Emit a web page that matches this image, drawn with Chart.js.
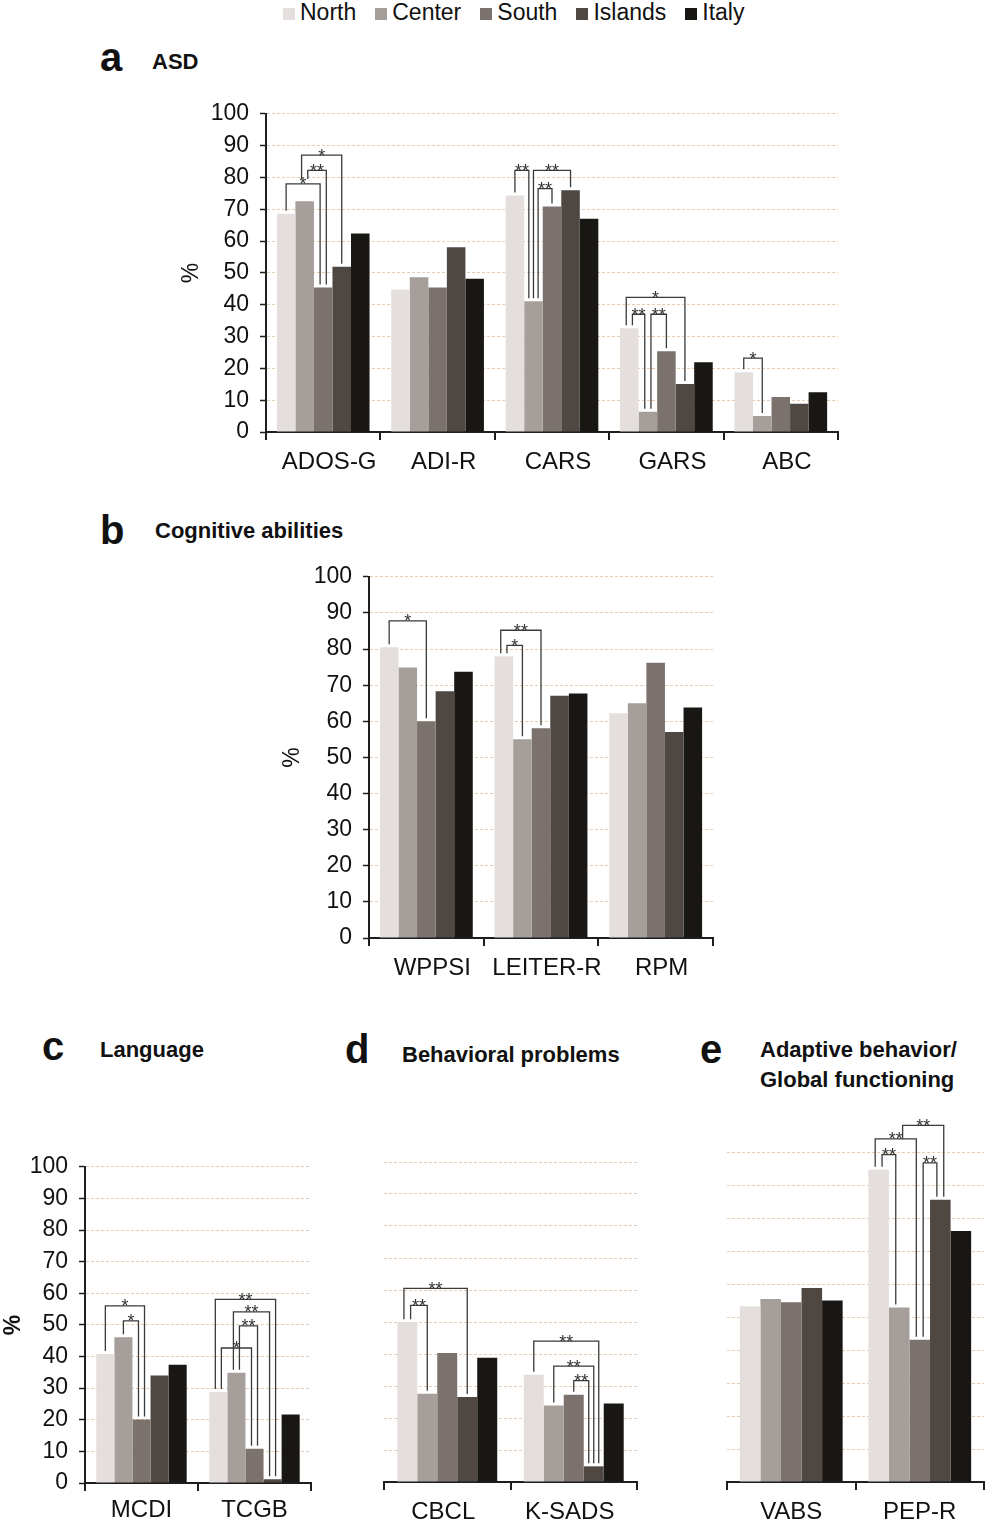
<!DOCTYPE html>
<html>
<head>
<meta charset="utf-8">
<script src="https://cdn.jsdelivr.net/npm/chart.js@4.4.1/dist/chart.umd.min.js"></script>
<style>
  body { margin:0; background:#fff; width:986px; height:1524px; position:relative; overflow:hidden;
         font-family:"Liberation Sans", Arial, sans-serif; color:#111; }
  canvas { position:absolute; }
  .t { position:absolute; font-weight:bold; line-height:1; white-space:nowrap; }
  .letter { font-size:40px; }
  .head { font-size:22px; }
  #legend { position:absolute; left:283px; top:1px; font-size:23px; line-height:1; display:flex; align-items:center; }
  #legend .item { display:flex; align-items:center; margin-right:19px; }
  #legend .sw { width:12px; height:12px; margin-right:5px; margin-top:3px; }
</style>
</head>
<body>
<div id="legend"></div>

<div class="t letter" style="left:100px;top:37px">a</div>
<div class="t head" style="left:152px;top:51px">ASD</div>
<div class="t letter" style="left:100px;top:510px">b</div>
<div class="t head" style="left:155px;top:520px">Cognitive abilities</div>
<div class="t letter" style="left:42px;top:1026px">c</div>
<div class="t head" style="left:100px;top:1039px">Language</div>
<div class="t letter" style="left:345px;top:1029px">d</div>
<div class="t head" style="left:402px;top:1044px">Behavioral problems</div>
<div class="t letter" style="left:700px;top:1029px">e</div>
<div class="t head" style="left:760px;top:1039px">Adaptive behavior/</div>
<div class="t head" style="left:760px;top:1069px">Global functioning</div>

<canvas id="chartA" width="680" height="391" style="left:170px;top:89px"></canvas>
<canvas id="chartB" width="455" height="428" style="left:270px;top:552px"></canvas>
<canvas id="chartC" width="323" height="382" style="left:0px;top:1142px"></canvas>
<canvas id="chartD" width="270" height="374" style="left:380px;top:1150px"></canvas>
<canvas id="chartE" width="263" height="424" style="left:723px;top:1100px"></canvas>

<script>
// regions (series)
var regions = ['North', 'Center', 'South', 'Islands', 'Italy'];
var regionColors = ['#e4dfdc', '#a69e9a', '#7b726d', '#4e4742', '#181714'];

// a - ASD
var asdTests = ['ADOS-G', 'ADI-R', 'CARS', 'GARS', 'ABC'];
var asdNorth   = [68.6, 44.7, 74.3, 32.6, 18.8];
var asdCenter  = [72.5, 48.6, 41.1, 6.4, 5.0];
var asdSouth   = [45.4, 45.4, 70.9, 25.4, 11.0];
var asdIslands = [51.9, 58.1, 76.0, 15.1, 8.9];
var asdItaly   = [62.4, 48.2, 67.0, 21.9, 12.5];
// significance: [test, from region, to region, bracket level %, stars, (leg stop %)]
var asdSig = [
  [0, 0, 2, 78, '*'], [0, 1, 2, 82.2, '**', 79.5], [0, 1, 3, 87, '*', 79.5],
  [2, 0, 1, 82.2, '**'], [2, 1, 2, 76.5, '**'], [2, 1, 3, 82.2, '**'],
  [3, 0, 3, 42.3, '*'], [3, 0, 1, 37, '**'], [3, 1, 2, 37, '**'],
  [4, 0, 1, 23.2, '*']
];

// b - Cognitive abilities
var cogTests = ['WPPSI', 'LEITER-R', 'RPM'];
var cogNorth   = [80.5, 78.0, 62.2];
var cogCenter  = [74.9, 55.0, 65.0];
var cogSouth   = [60.0, 58.1, 76.2];
var cogIslands = [68.3, 67.1, 57.0];
var cogItaly   = [73.7, 67.7, 63.8];
var cogSig = [[0, 0, 2, 87.8, '*'], [1, 0, 2, 85.2, '**'], [1, 0, 1, 81, '*']];

// c - Language
var langTests = ['MCDI', 'TCGB'];
var langNorth   = [40.8, 28.8];
var langCenter  = [46.1, 34.9];
var langSouth   = [20.1, 10.8];
var langIslands = [34.0, 1.2];
var langItaly   = [37.4, 21.7];
var langSig = [
  [0, 0, 2, 56, '*'], [0, 1, 2, 51.3, '*'],
  [1, 0, 3, 58.1, '**'], [1, 1, 3, 54.1, '**'], [1, 1, 2, 49.7, '**'], [1, 0, 2, 42.7, '*']
];

// d - Behavioral problems
var behTests = ['CBCL', 'K-SADS'];
var behNorth   = [49.9, 33.5];
var behCenter  = [27.6, 23.9];
var behSouth   = [40.3, 27.3];
var behIslands = [26.6, 4.9];
var behItaly   = [38.8, 24.5];
var behSig = [
  [0, 0, 3, 60.5, '**'], [0, 0, 1, 55.2, '**'],
  [1, 0, 3, 44, '**'], [1, 1, 3, 36.2, '**'], [1, 2, 3, 31.7, '**']
];

// e - Adaptive behavior / Global functioning
var adaTests = ['VABS', 'PEP-R'];
var adaNorth   = [53.4, 94.9];
var adaCenter  = [55.6, 53.0];
var adaSouth   = [54.6, 43.2];
var adaIslands = [59.0, 85.8];
var adaItaly   = [55.2, 76.3];
var adaSig = [
  [1, 0, 2, 104.3, '**'], [1, 0, 1, 99.5, '**'], [1, 1, 3, 108.4, '**', 104.3], [1, 2, 3, 97, '**']
];

var FONT = '"Liberation Sans", Arial, sans-serif';
var INK = '#1e1e1e';

// legend
var legend = document.getElementById('legend');
regions.forEach(function(r, i){
  var it = document.createElement('div');
  it.className = 'item';
  it.innerHTML = '<span class="sw" style="background:' + regionColors[i] + '"></span><span>' + r + '</span>';
  legend.appendChild(it);
});

// brackets drawn from the bars' own positions
var sigPlugin = {
  id: 'sig',
  afterDatasetsDraw: function(chart, args, opts){
    var marks = opts.marks || [];
    var ys = chart.scales.y, c = chart.ctx;
    var legs = {}, legX = {};
    marks.forEach(function(m, k){
      var a = m[0] + '_' + m[1], b = m[0] + '_' + m[2];
      (legs[a] = legs[a] || []).push({k: k, end: false, level: m[3]});
      (legs[b] = legs[b] || []).push({k: k, end: true, level: m[3]});
    });
    Object.keys(legs).forEach(function(key){
      var p = key.split('_');
      var bar = chart.getDatasetMeta(+p[1]).data[+p[0]];
      var list = legs[key];
      list.sort(function(u, v){
        if (u.end !== v.end) return u.end ? -1 : 1;
        return u.end ? u.level - v.level : v.level - u.level;
      });
      list.forEach(function(l, i){
        legX[l.k + (l.end ? 'b' : 'a')] = bar.x - bar.width / 2 + bar.width * (i + 1) / (list.length + 1);
      });
    });
    c.save();
    c.strokeStyle = '#3a3a3a';
    c.lineWidth = 1.3;
    c.fillStyle = '#333';
    c.font = '18px ' + FONT;
    c.textAlign = 'center';
    marks.forEach(function(m, k){
      var xa = legX[k + 'a'], xb = legX[k + 'b'];
      var top = ys.getPixelForValue(m[3]);
      var barA = chart.getDatasetMeta(m[1]).data[m[0]];
      var barB = chart.getDatasetMeta(m[2]).data[m[0]];
      var ya = m[5] != null ? ys.getPixelForValue(m[5]) : barA.y - 3;
      var yb = barB.y - 3;
      c.beginPath();
      c.moveTo(xa, ya); c.lineTo(xa, top); c.lineTo(xb, top); c.lineTo(xb, yb);
      c.stroke();
      c.fillText(m[4], (xa + xb) / 2, top + 6.5);
    });
    c.restore();
  }
};

function makePanel(id, tests, series, sig, cfg){
  return new Chart(document.getElementById(id), {
    type: 'bar',
    data: {
      labels: tests,
      datasets: series.map(function(vals, i){
        return {
          label: regions[i], data: vals, backgroundColor: regionColors[i],
          borderWidth: 0, barPercentage: 1, categoryPercentage: cfg.cat
        };
      })
    },
    options: {
      responsive: false, maintainAspectRatio: false, animation: false,
      layout: { padding: cfg.pad },
      plugins: { legend: { display: false }, tooltip: { enabled: false }, sig: { marks: sig } },
      scales: {
        x: {
          grid: { drawOnChartArea: false, drawTicks: true, tickLength: 8, color: INK, lineWidth: 2 },
          border: { color: INK, width: 2 },
          ticks: { color: '#111', font: { family: FONT, size: 24 }, padding: cfg.xpad, labelOffset: cfg.lo || 0,
                   maxRotation: 0, autoSkip: false },
          afterFit: function(s){ s.height = cfg.xh; }
        },
        y: {
          min: 0, max: cfg.max,
          ticks: { stepSize: 10, display: cfg.axis, color: '#111', font: { family: FONT, size: 23 }, padding: 11 },
          grid: {
            color: function(ctx){ return ctx.tick && ctx.tick.value > 0 && ctx.tick.value <= 100 ? 'rgba(214,172,126,0.6)' : 'rgba(0,0,0,0)'; },
            lineWidth: 1, drawTicks: cfg.axis, tickLength: 6, tickColor: INK, tickWidth: 1.5, tickBorderDash: []
          },
          border: { display: cfg.axis, color: INK, width: 2, dash: [3, 2] },
          title: { display: cfg.axis, text: '%', color: '#111', padding: { top: cfg.tpad, bottom: 0 },
                   font: { family: FONT, size: 23, weight: cfg.tbold ? 'bold' : 'normal' } },
          afterFit: function(s){ s.width = cfg.yw; }
        }
      }
    },
    plugins: [sigPlugin]
  });
}

makePanel('chartA', asdTests, [asdNorth, asdCenter, asdSouth, asdIslands, asdItaly], asdSig,
  { cat: 0.81, pad: { top: 0, right: 12, left: 0, bottom: 0 }, xh: 48, xpad: 8, lo: 6, yw: 96, max: 100, axis: true, tpad: 8 });
makePanel('chartB', cogTests, [cogNorth, cogCenter, cogSouth, cogIslands, cogItaly], cogSig,
  { cat: 0.81, pad: { top: 0, right: 12, left: 0, bottom: 0 }, xh: 42, xpad: 8, lo: 6, yw: 99, max: 100, axis: true, tpad: 9 });
makePanel('chartC', langTests, [langNorth, langCenter, langSouth, langIslands, langItaly], langSig,
  { cat: 0.80, pad: { top: 0, right: 12, left: 0, bottom: 0 }, xh: 41, xpad: 5, yw: 85, max: 100, axis: true, tpad: 0, tbold: true });
makePanel('chartD', behTests, [behNorth, behCenter, behSouth, behIslands, behItaly], behSig,
  { cat: 0.79, pad: { top: 12, right: 13, left: 0, bottom: 0 }, xh: 42, xpad: 8, lo: -4, yw: 4, max: 100, axis: false, tpad: 0 });
makePanel('chartE', adaTests, [adaNorth, adaCenter, adaSouth, adaIslands, adaItaly], adaSig,
  { cat: 0.80, pad: { top: 13.5, right: 2, left: 0, bottom: 0 }, xh: 42, xpad: 8, yw: 4, max: 112, axis: false, tpad: 0 });
</script>
</body>
</html>
